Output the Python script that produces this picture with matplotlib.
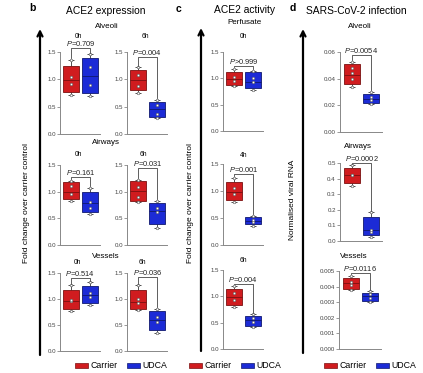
import matplotlib
matplotlib.use("Agg")
import matplotlib.pyplot as plt
from matplotlib.patches import Rectangle, FancyArrowPatch

plt.rcParams['font.family'] = ['Liberation Sans', 'DejaVu Sans']
plt.rcParams['mathtext.fontset'] = 'custom'
plt.rcParams['mathtext.it'] = 'Liberation Sans:italic'
plt.rcParams['mathtext.rm'] = 'Liberation Sans'

W, H = 423, 373

GROUPS = ["Carrier", "UDCA"]
RED = "#d01c1f"
BLUE = "#1c2bd6"
RED_EDGE = "#7a1010"
BLUE_EDGE = "#10186e"

# box stats: [min, q1, median, q3, max]
b_alv_0h_car_box = [0.71, 0.77, 0.99, 1.25, 1.36]
b_alv_0h_udc_box = [0.70, 0.75, 1.07, 1.39, 1.46]
b_alv_0h_car_pts = [0.71, 0.92, 1.05, 1.36]
b_alv_0h_udc_pts = [0.70, 0.90, 1.23, 1.46]
b_alv_0h_p = "0.709"

b_alv_6h_car_box = [0.75, 0.81, 0.99, 1.17, 1.22]
b_alv_6h_udc_box = [0.29, 0.32, 0.45, 0.58, 0.62]
b_alv_6h_car_pts = [0.75, 0.88, 1.08, 1.22]
b_alv_6h_udc_pts = [0.29, 0.37, 0.53, 0.62]
b_alv_6h_p = "0.004"

b_air_0h_car_box = [0.83, 0.86, 0.99, 1.18, 1.20]
b_air_0h_udc_box = [0.58, 0.61, 0.78, 1.00, 1.07]
b_air_0h_car_pts = [0.83, 0.96, 1.10, 1.20]
b_air_0h_udc_pts = [0.58, 0.69, 0.81, 1.07]
b_air_0h_p = "0.161"

b_air_6h_car_box = [0.80, 0.82, 1.01, 1.20, 1.22]
b_air_6h_udc_box = [0.32, 0.39, 0.64, 0.78, 0.83]
b_air_6h_car_pts = [0.80, 0.90, 1.08, 1.22]
b_air_6h_udc_pts = [0.32, 0.62, 0.70, 0.83]
b_air_6h_p = "0.031"

b_ves_0h_car_box = [0.76, 0.81, 0.96, 1.18, 1.26]
b_ves_0h_udc_box = [0.88, 0.92, 1.08, 1.25, 1.32]
b_ves_0h_car_pts = [0.76, 0.96, 0.98, 1.26]
b_ves_0h_udc_pts = [0.88, 1.03, 1.11, 1.32]
b_ves_0h_p = "0.514"

b_ves_6h_car_box = [0.78, 0.81, 0.95, 1.17, 1.26]
b_ves_6h_udc_box = [0.34, 0.40, 0.60, 0.77, 0.81]
b_ves_6h_car_pts = [0.78, 0.92, 1.00, 1.26]
b_ves_6h_udc_pts = [0.34, 0.56, 0.65, 0.81]
b_ves_6h_p = "0.036"

c_0h_car_box = [0.86, 0.87, 0.98, 1.12, 1.18]
c_0h_udc_box = [0.77, 0.81, 0.93, 1.12, 1.14]
c_0h_car_pts = [0.86, 0.95, 1.03, 1.18]
c_0h_udc_pts = [0.77, 0.93, 1.00, 1.14]
c_0h_p = ">0.999"

c_4h_car_box = [0.80, 0.83, 0.99, 1.17, 1.24]
c_4h_udc_box = [0.36, 0.39, 0.45, 0.51, 0.54]
c_4h_car_pts = [0.80, 0.95, 1.06, 1.24]
c_4h_udc_pts = [0.36, 0.42, 0.47, 0.54]
c_4h_p = "=0.001"

c_6h_car_box = [0.79, 0.83, 0.99, 1.14, 1.20]
c_6h_udc_box = [0.41, 0.44, 0.55, 0.63, 0.66]
c_6h_car_pts = [0.79, 0.93, 1.06, 1.20]
c_6h_udc_pts = [0.41, 0.52, 0.58, 0.66]
c_6h_p = "=0.004"

d_alv_car_box = [0.0335, 0.0358, 0.0428, 0.0513, 0.0527]
d_alv_udc_box = [0.0213, 0.0220, 0.0250, 0.0283, 0.0302]
d_alv_car_pts = [0.0335, 0.0400, 0.0440, 0.0480, 0.0527]
d_alv_udc_pts = [0.0213, 0.0240, 0.0260, 0.0302]
d_alv_p = "0.0054"

d_air_car_box = [0.352, 0.373, 0.425, 0.466, 0.485]
d_air_udc_box = [0.025, 0.040, 0.070, 0.152, 0.184]
d_air_car_pts = [0.352, 0.420, 0.425, 0.485]
d_air_udc_pts = [0.025, 0.055, 0.070, 0.184]
d_air_p = "0.0002"

d_ves_car_box = [0.0038, 0.00385, 0.0042, 0.00453, 0.0047]
d_ves_udc_box = [0.0030, 0.0031, 0.0034, 0.0036, 0.0037]
d_ves_car_pts = [0.0038, 0.0041, 0.0043, 0.0047]
d_ves_udc_pts = [0.0030, 0.0033, 0.0035, 0.0037]
d_ves_p = "0.0116"

b_ticks = [0.0, 0.5, 1.0, 1.5]
b_ticklabels = ["0.0", "0.5", "1.0", "1.5"]
d_alv_ticks = [0.0, 0.02, 0.04, 0.06]
d_alv_ticklabels = ["0.00", "0.02", "0.04", "0.06"]
d_air_ticks = [0.0, 0.1, 0.2, 0.3, 0.4, 0.5]
d_air_ticklabels = ["0.0", "0.1", "0.2", "0.3", "0.4", "0.5"]
d_ves_ticks = [0.0, 0.001, 0.002, 0.003, 0.004, 0.005]
d_ves_ticklabels = ["0.000", "0.001", "0.002", "0.003", "0.004", "0.005"]

fig = plt.figure(figsize=(W / 100, H / 100), dpi=100)


def fx(x):
    return x / W


def fy(y):
    return 1 - y / H


def make_ax(x0, x1, ytop, ybot):
    return fig.add_axes([fx(x0), fy(ybot), (x1 - x0) / W, (ybot - ytop) / H])


def draw_box(ax, xc, stats, pts, face, edge):
    lo, q1, med, q3, hi = stats
    w = 0.84
    cw = 0.3
    ax.vlines(xc, q3, hi, color="#333333", lw=0.6, zorder=2)
    ax.vlines(xc, lo, q1, color="#333333", lw=0.6, zorder=2)
    ax.hlines([lo, hi], xc - cw / 2, xc + cw / 2, color="#333333", lw=0.6, zorder=2)
    ax.add_patch(Rectangle((xc - w / 2, q1), w, q3 - q1, facecolor=face,
                           edgecolor=edge, lw=0.6, zorder=3))
    ax.hlines(med, xc - w / 2, xc + w / 2, color=edge, lw=0.6, zorder=4)
    ax.scatter([xc] * len(pts), pts, s=3.5, facecolor="white", edgecolor="#555555",
               linewidths=0.4, zorder=5, clip_on=False)


def panel(ax, car_box, udc_box, car_pts, udc_pts, ticks, ticklabels, ptxt, ybr, gap):
    ax.set_xlim(0.4, 2.55)
    ax.set_ylim(ticks[0], ticks[-1])
    draw_box(ax, 1, car_box, car_pts, RED, RED_EDGE)
    draw_box(ax, 2, udc_box, udc_pts, BLUE, BLUE_EDGE)
    # bracket
    ax.plot([1, 1, 2, 2], [car_box[4] + gap, ybr, ybr, udc_box[4] + gap],
            color="#444444", lw=0.6, clip_on=False, zorder=6)
    ax.text(1.5, ybr, r"$P$" + ptxt, ha="center", va="bottom", fontsize=5.4,
            color="#222222", clip_on=False)
    for s in ["top", "right"]:
        ax.spines[s].set_visible(False)
    for s in ["left", "bottom"]:
        ax.spines[s].set_color("#888888")
        ax.spines[s].set_linewidth(0.7)
    ax.set_xticks([])
    ax.set_yticks(ticks)
    ax.set_yticklabels(ticklabels)
    ax.tick_params(axis="y", length=2, width=0.6, color="#888888",
                   labelsize=4.4, labelcolor="#444444", pad=1)
    ax.patch.set_alpha(0)


# ---- panel b ----
ax = make_ax(60, 100, 52, 134)
panel(ax, b_alv_0h_car_box, b_alv_0h_udc_box, b_alv_0h_car_pts, b_alv_0h_udc_pts,
      b_ticks, b_ticklabels, "=" + b_alv_0h_p, 1.57, 0.03)
ax = make_ax(127, 167, 52, 134)
panel(ax, b_alv_6h_car_box, b_alv_6h_udc_box, b_alv_6h_car_pts, b_alv_6h_udc_pts,
      b_ticks, b_ticklabels, "=" + b_alv_6h_p, 1.41, 0.03)
ax = make_ax(60, 100, 165, 245)
panel(ax, b_air_0h_car_box, b_air_0h_udc_box, b_air_0h_car_pts, b_air_0h_udc_pts,
      b_ticks, b_ticklabels, "=" + b_air_0h_p, 1.28, 0.03)
ax = make_ax(127, 167, 165, 245)
panel(ax, b_air_6h_car_box, b_air_6h_udc_box, b_air_6h_car_pts, b_air_6h_udc_pts,
      b_ticks, b_ticklabels, "=" + b_air_6h_p, 1.44, 0.03)
ax = make_ax(60, 100, 273, 351)
panel(ax, b_ves_0h_car_box, b_ves_0h_udc_box, b_ves_0h_car_pts, b_ves_0h_udc_pts,
      b_ticks, b_ticklabels, "=" + b_ves_0h_p, 1.40, 0.03)
ax = make_ax(127, 167, 273, 351)
panel(ax, b_ves_6h_car_box, b_ves_6h_udc_box, b_ves_6h_car_pts, b_ves_6h_udc_pts,
      b_ticks, b_ticklabels, "=" + b_ves_6h_p, 1.43, 0.03)

# ---- panel c ----
ax = make_ax(223, 263, 52, 131)
panel(ax, c_0h_car_box, c_0h_udc_box, c_0h_car_pts, c_0h_udc_pts,
      b_ticks, b_ticklabels, c_0h_p, 1.24, 0.03)
ax = make_ax(223, 263, 164, 245)
panel(ax, c_4h_car_box, c_4h_udc_box, c_4h_car_pts, c_4h_udc_pts,
      b_ticks, b_ticklabels, c_4h_p, 1.31, 0.03)
ax = make_ax(223, 263, 270, 349)
panel(ax, c_6h_car_box, c_6h_udc_box, c_6h_car_pts, c_6h_udc_pts,
      b_ticks, b_ticklabels, c_6h_p, 1.23, 0.03)

# ---- panel d ----
ax = make_ax(340, 382, 52, 132)
panel(ax, d_alv_car_box, d_alv_udc_box, d_alv_car_pts, d_alv_udc_pts,
      d_alv_ticks, d_alv_ticklabels, "=" + d_alv_p, 0.058, 0.001)
ax = make_ax(340, 382, 163, 241)
panel(ax, d_air_car_box, d_air_udc_box, d_air_car_pts, d_air_udc_pts,
      d_air_ticks, d_air_ticklabels, "=" + d_air_p, 0.502, 0.008)
ax = make_ax(339, 381, 271, 349)
panel(ax, d_ves_car_box, d_ves_udc_box, d_ves_car_pts, d_ves_udc_pts,
      d_ves_ticks, d_ves_ticklabels, "=" + d_ves_p, 0.00485, 0.0001)

# ---- texts ----
def t(x, y, s, size, **kw):
    fig.text(fx(x), fy(y), s, fontsize=size, ha=kw.pop("ha", "center"),
             va=kw.pop("va", "center"), **kw)

t(32, 8, "b", 7.5, weight="bold")
t(106, 11, "ACE2 expression", 7.4)
t(107, 26, "Alveoli", 5.8)
t(78, 37, "0h", 4.8)
t(145, 37, "6h", 4.8)
t(106, 143, "Airways", 5.8)
t(78, 154, "0h", 4.8)
t(143, 154, "6h", 4.8)
t(106, 256, "Vessels", 5.8)
t(77, 263, "0h", 4.8)
t(142, 263, "6h", 4.8)

t(178, 9, "c", 7.5, weight="bold")
t(244, 10, "ACE2 activity", 7.4)
t(244, 23, "Perfusate", 5.8)
t(243, 37, "0h", 4.8)
t(244, 155, "4h", 4.8)
t(243, 260, "6h", 4.8)

t(293, 8, "d", 7.5, weight="bold")
t(356, 11, "SARS-CoV-2 infection", 7.4)
t(360, 26, "Alveoli", 5.8)
t(358, 146, "Airways", 5.8)
t(354, 256, "Vessels", 5.8)

t(27, 203, "Fold change over carrier control", 6, rotation=90)
t(190, 203, "Fold change over carrier control", 6, rotation=90)
t(292, 200, "Normalised viral RNA", 6, rotation=90)

# ---- big arrows ----
for xa, ytip, ybot in [(40, 29, 355), (201, 28, 351), (303, 29, 353)]:
    fig.add_artist(FancyArrowPatch((fx(xa), fy(ybot)), (fx(xa), fy(ytip)),
                                   transform=fig.transFigure, arrowstyle="->",
                                   mutation_scale=9, lw=1.6, color="black",
                                   shrinkA=0, shrinkB=0))

# ---- legends ----
for (rx, bx) in [(75, 127), (189, 241), (324, 376)]:
    for px, name, face, edge in [(rx, GROUPS[0], RED, RED_EDGE), (bx, GROUPS[1], BLUE, BLUE_EDGE)]:
        fig.add_artist(Rectangle((fx(px), fy(368)), 13 / W, 5.5 / H, facecolor=face,
                                 edgecolor=edge, lw=0.5, transform=fig.transFigure))
        t(px + 15, 365.5, name, 6.3, ha="left")

fig.savefig("out.png", dpi=100)
